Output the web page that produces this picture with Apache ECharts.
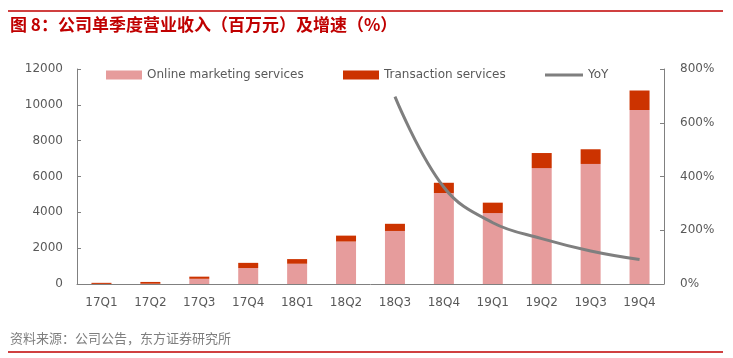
<!DOCTYPE html>
<html><head><meta charset="utf-8">
<script src="https://cdn.jsdelivr.net/npm/echarts@6/dist/echarts.min.js"></script>
<style>html,body{margin:0;padding:0;background:#fff}#c{width:733px;height:358px}</style>
</head><body><div id="c"></div>
<script>
const categories = ['17Q1','17Q2','17Q3','17Q4','18Q1','18Q2','18Q3','18Q4','19Q1','19Q2','19Q3','19Q4'];
const onlineMarketing = [5, 15, 290, 890, 1130, 2370, 2960, 5080, 3960, 6470, 6700, 9710];
const transaction = [60, 100, 120, 290, 260, 330, 400, 570, 580, 840, 820, 1090];
const yoy = [null, null, null, null, null, null, 697, 360, 228, 169, 123, 91];
const leftTicks = [0, 2000, 4000, 6000, 8000, 10000, 12000];
const rightTicks = [0, 200, 400, 600, 800];

const font = '"DejaVu Sans", sans-serif';
const cjk = '"Noto Sans CJK SC", sans-serif';
const chart = echarts.init(document.getElementById('c'));
chart.setOption({
  animation: false,
  title: [
    {text: '图 8：公司单季度营业收入（百万元）及增速（%）', left: 10, top: 16, padding: 0,
     textStyle: {color: '#C00000', fontSize: 17, fontWeight: 'bold', fontFamily: cjk}},
    {text: '资料来源：公司公告，东方证券研究所', left: 10, top: 332, padding: 0,
     textStyle: {color: '#7f7f7f', fontSize: 13, fontWeight: 'normal', fontFamily: cjk}}
  ],
  graphic: [
    {type: 'line', shape: {x1: 8, y1: 11, x2: 723, y2: 11}, style: {stroke: '#C00000', lineWidth: 1.5}},
    {type: 'line', shape: {x1: 8, y1: 352, x2: 723, y2: 352}, style: {stroke: '#C00000', lineWidth: 1.5}}
  ],
  legend: [
    {data: [{name: 'Online marketing services', icon: 'rect'}], left: 106, top: 69, padding: 0, itemWidth: 36, itemHeight: 9, itemGap: 4,
     textStyle: {color: '#595959', fontSize: 12, fontFamily: font}},
    {data: [{name: 'Transaction services', icon: 'rect'}], left: 343, top: 69, padding: 0, itemWidth: 36, itemHeight: 9, itemGap: 4,
     textStyle: {color: '#595959', fontSize: 12, fontFamily: font}},
    {data: [{name: 'YoY', icon: 'rect'}], left: 545, top: 69, padding: 0, itemWidth: 38, itemHeight: 3, itemGap: 4,
     textStyle: {color: '#595959', fontSize: 12, fontFamily: font}}
  ],
  grid: {left: 77, right: 69, top: 69, bottom: 74},
  xAxis: {
    type: 'category', data: categories,
    axisLine: {lineStyle: {color: '#808080', width: 1}},
    axisTick: {inside: true, length: 5, lineStyle: {color: '#808080'}},
    axisLabel: {color: '#595959', fontSize: 12, fontFamily: font, margin: 13}
  },
  yAxis: [
    {type: 'value', min: leftTicks[0], max: leftTicks[leftTicks.length - 1], interval: 2000,
     axisLine: {show: true, lineStyle: {color: '#808080'}},
     axisTick: {show: true, inside: true, length: 4, lineStyle: {color: '#808080'}},
     splitLine: {show: false},
     axisLabel: {color: '#595959', fontSize: 12, fontFamily: font, margin: 14, formatter: v => String(v)}},
    {type: 'value', min: rightTicks[0], max: rightTicks[rightTicks.length - 1], interval: 200,
     axisLine: {show: true, lineStyle: {color: '#808080'}},
     axisTick: {show: true, inside: true, length: 4, lineStyle: {color: '#808080'}},
     splitLine: {show: false},
     axisLabel: {color: '#595959', fontSize: 12, fontFamily: font, margin: 16, formatter: '{value}%'}}
  ],
  series: [
    {name: 'Online marketing services', type: 'bar', stack: 'rev', data: onlineMarketing, barWidth: 20,
     itemStyle: {color: '#E69C9C'}},
    {name: 'Transaction services', type: 'bar', stack: 'rev', data: transaction, barWidth: 20,
     itemStyle: {color: '#CC3300'}},
    {name: 'YoY', type: 'line', yAxisIndex: 1, data: yoy, smooth: 0.4, symbol: 'none',
     lineStyle: {color: '#7F7F7F', width: 3}, itemStyle: {color: '#7F7F7F'}}
  ]
});
</script></body></html>
